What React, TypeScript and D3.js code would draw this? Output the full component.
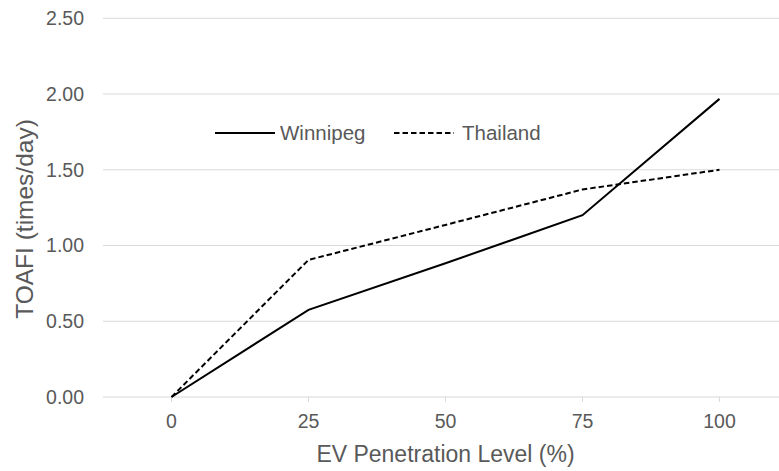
import React from "react";
import * as d3 from "d3";

const categories = ["0", "25", "50", "75", "100"];
const winnipeg = [0, 0.575, 0.883, 1.2, 1.968];
const thailand = [0, 0.905, 1.136, 1.37, 1.5];
const yTicks = [0, 0.5, 1, 1.5, 2, 2.5];
const seriesNames = ["Winnipeg", "Thailand"];

const W = 779;
const H = 471;

export default function App() {
  const x = d3.scalePoint<string>().domain(categories).range([103, 788]).padding(0.5);
  const y = d3.scaleLinear().domain([0, 2.5]).range([397, 18.3]);
  const line = d3
    .line<number>()
    .x((_, i) => x(categories[i]) as number)
    .y((d) => y(d));
  const textColor = "#595959";
  const font = "'Liberation Sans', Arial, sans-serif";
  const dash = "5.5,3";

  return (
    <svg
      width={W}
      height={H}
      style={{ position: "fixed", left: 0, top: 0, background: "#fff" }}
      fontFamily={font}
    >
      {yTicks.map((t) => (
        <g key={t}>
          <line x1={103} x2={W} y1={y(t)} y2={y(t)} stroke="#d9d9d9" strokeWidth={1} />
          <text x={84} y={y(t)} dy="0.35em" textAnchor="end" fontSize={19.5} fill={textColor}>
            {t.toFixed(2)}
          </text>
        </g>
      ))}
      {categories.map((c) => (
        <g key={c}>
          <line x1={x(c)} x2={x(c)} y1={y(0)} y2={y(0) + 5} stroke="#d9d9d9" strokeWidth={1} />
          <text x={x(c)} y={428} textAnchor="middle" fontSize={19.5} fill={textColor}>
            {c}
          </text>
        </g>
      ))}
      <text x={445.5} y={462} textAnchor="middle" fontSize={23} fill={textColor}>
        EV Penetration Level (%)
      </text>
      <text
        transform={`translate(24, 219) rotate(-90)`}
        textAnchor="middle"
        dominantBaseline="central"
        fontSize={24.5}
        fill={textColor}
      >
        TOAFI (times/day)
      </text>
      <path d={line(winnipeg) || ""} fill="none" stroke="#000" strokeWidth={2} />
      <path d={line(thailand) || ""} fill="none" stroke="#000" strokeWidth={2} strokeDasharray={dash} />
      <line x1={215} x2={275} y1={133} y2={133} stroke="#000" strokeWidth={2} />
      <text x={280} y={133} dy="0.35em" fontSize={20.5} fill={textColor}>
        {seriesNames[0]}
      </text>
      <line x1={394} x2={454} y1={133} y2={133} stroke="#000" strokeWidth={2} strokeDasharray={dash} />
      <text x={462} y={133} dy="0.35em" fontSize={20.5} fill={textColor}>
        {seriesNames[1]}
      </text>
    </svg>
  );
}
